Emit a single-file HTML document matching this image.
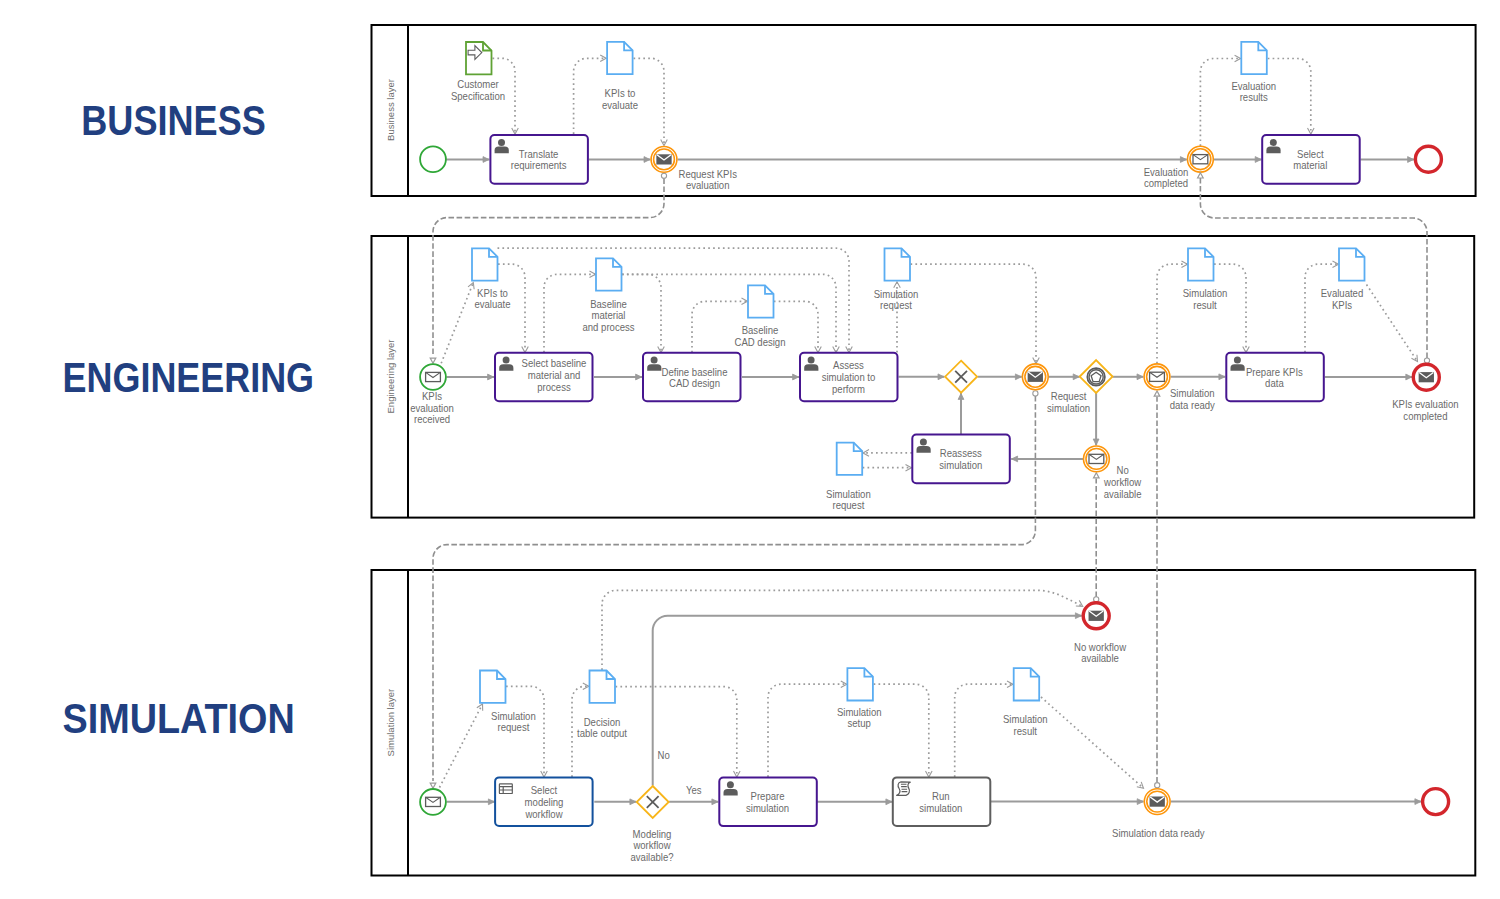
<!DOCTYPE html><html><head><meta charset="utf-8"><style>html,body{margin:0;padding:0;background:#fff;}svg{display:block;font-family:"Liberation Sans",sans-serif;}</style></head><body>
<svg width="1500" height="899" viewBox="0 0 1500 899">
<rect width="1500" height="899" fill="#fff"/>
<text x="81.3" y="135.1" font-size="41.8" font-weight="bold" fill="#213f80" textLength="184.5" lengthAdjust="spacingAndGlyphs">BUSINESS</text>
<text x="62.6" y="392.4" font-size="41.8" font-weight="bold" fill="#213f80" textLength="251.4" lengthAdjust="spacingAndGlyphs">ENGINEERING</text>
<text x="62.5" y="732.6" font-size="41.8" font-weight="bold" fill="#213f80" textLength="232.3" lengthAdjust="spacingAndGlyphs">SIMULATION</text>
<rect x="371.5" y="25" width="1104.1" height="171" fill="none" stroke="#000" stroke-width="2"/>
<path d="M408 25V196" stroke="#000" stroke-width="2"/>
<text transform="translate(393.8 110) rotate(-90)" text-anchor="middle" font-size="9.5" fill="#6e6e6e">Business layer</text>
<rect x="371.5" y="236" width="1102.7" height="281.6" fill="none" stroke="#000" stroke-width="2"/>
<path d="M408 236V517.6" stroke="#000" stroke-width="2"/>
<text transform="translate(393.8 376.5) rotate(-90)" text-anchor="middle" font-size="9.5" fill="#6e6e6e">Engineering layer</text>
<rect x="371.5" y="570" width="1103.8" height="305.5" fill="none" stroke="#000" stroke-width="2"/>
<path d="M408 570V875.5" stroke="#000" stroke-width="2"/>
<text transform="translate(393.8 722.6) rotate(-90)" text-anchor="middle" font-size="9.5" fill="#6e6e6e">Simulation layer</text>
<path d="M446 159.5L489.4 159.5" fill="none" stroke="#9b9b9b" stroke-width="2"/>
<path d="M489 159.5L483 162.4L483 156.6Z" fill="#9b9b9b" stroke="#9b9b9b" stroke-width="0.8" stroke-linejoin="round"/>
<path d="M588.9 159.5L650.4 159.5" fill="none" stroke="#9b9b9b" stroke-width="2"/>
<path d="M650 159.5L644 162.4L644 156.6Z" fill="#9b9b9b" stroke="#9b9b9b" stroke-width="0.8" stroke-linejoin="round"/>
<path d="M677.6 159.5L1186.8 159.5" fill="none" stroke="#9b9b9b" stroke-width="2"/>
<path d="M1186.4 159.5L1180.4 162.4L1180.4 156.6Z" fill="#9b9b9b" stroke="#9b9b9b" stroke-width="0.8" stroke-linejoin="round"/>
<path d="M1213.6 159.5L1261.6 159.5" fill="none" stroke="#9b9b9b" stroke-width="2"/>
<path d="M1261.2 159.5L1255.2 162.4L1255.2 156.6Z" fill="#9b9b9b" stroke="#9b9b9b" stroke-width="0.8" stroke-linejoin="round"/>
<path d="M1360.5 159.5L1414 159.5" fill="none" stroke="#9b9b9b" stroke-width="2"/>
<path d="M1413.6 159.5L1407.6 162.4L1407.6 156.6Z" fill="#9b9b9b" stroke="#9b9b9b" stroke-width="0.8" stroke-linejoin="round"/>
<path d="M492.5 58.3L502 58.3A13 13 0 0 1 515 71.3L515 134" fill="none" stroke="#9b9b9b" stroke-width="1.7" stroke-dasharray="1.7 3.2"/>
<path d="M511.7 128L515 134L518.3 128" fill="none" stroke="#9b9b9b" stroke-width="1.1"/>
<path d="M573.6 134L573.6 71.3A13 13 0 0 1 586.6 58.3L606.2 58.3" fill="none" stroke="#9b9b9b" stroke-width="1.7" stroke-dasharray="1.7 3.2"/>
<path d="M600.2 61.6L606.2 58.3L600.2 55" fill="none" stroke="#9b9b9b" stroke-width="1.1"/>
<path d="M633.5 58.3L651 58.3A13 13 0 0 1 664 71.3L664 145.6" fill="none" stroke="#9b9b9b" stroke-width="1.7" stroke-dasharray="1.7 3.2"/>
<path d="M660.7 139.6L664 145.6L667.3 139.6" fill="none" stroke="#9b9b9b" stroke-width="1.1"/>
<path d="M1200.4 146L1200.4 71.5A13 13 0 0 1 1213.4 58.5L1240.6 58.5" fill="none" stroke="#9b9b9b" stroke-width="1.7" stroke-dasharray="1.7 3.2"/>
<path d="M1234.6 61.8L1240.6 58.5L1234.6 55.2" fill="none" stroke="#9b9b9b" stroke-width="1.1"/>
<path d="M1267.7 58.5L1297.8 58.5A13 13 0 0 1 1310.8 71.5L1310.8 134" fill="none" stroke="#9b9b9b" stroke-width="1.7" stroke-dasharray="1.7 3.2"/>
<path d="M1307.5 128L1310.8 134L1314.1 128" fill="none" stroke="#9b9b9b" stroke-width="1.1"/>
<circle cx="433" cy="159.3" r="12.9" fill="#fff" stroke="#2fa737" stroke-width="1.8"/>
<rect x="490.4" y="135.1" width="97.5" height="48.6" rx="4" fill="#fff" stroke="#46168f" stroke-width="2"/>
<circle cx="501.5" cy="142.4" r="3.5" fill="#5c5c5c"/>
<path d="M494.6 153.2V150.3Q494.6 146.6 498.6 146.6H504.8Q508.8 146.6 508.8 150.3V153.2Z" fill="#5c5c5c"/>
<text transform="translate(538.6 157.7) scale(0.87 1)" text-anchor="middle" font-size="11" fill="#6a6a6a">Translate</text>
<text transform="translate(538.6 169.2) scale(0.87 1)" text-anchor="middle" font-size="11" fill="#6a6a6a">requirements</text>
<circle cx="664" cy="159.4" r="12.9" fill="#fff" stroke="#fd950a" stroke-width="1.6"/>
<circle cx="664" cy="159.4" r="10.4" fill="none" stroke="#fd950a" stroke-width="1.6"/>
<rect x="656.35" y="154.3" width="15.3" height="10.2" fill="#5c5c5c"/>
<path d="M656.95 154.7L664 159.91L671.05 154.7" fill="none" stroke="#fff" stroke-width="1.3"/>
<circle cx="1200.4" cy="159.2" r="12.9" fill="#fff" stroke="#fd950a" stroke-width="1.6"/>
<circle cx="1200.4" cy="159.2" r="10.4" fill="none" stroke="#fd950a" stroke-width="1.6"/>
<rect x="1193" y="154.6" width="14.8" height="9.2" fill="#fff" stroke="#5c5c5c" stroke-width="1.3"/>
<path d="M1193 154.6L1200.4 159.66L1207.8 154.6" fill="none" stroke="#5c5c5c" stroke-width="1.1"/>
<rect x="1262.2" y="135.1" width="97.5" height="48.6" rx="4" fill="#fff" stroke="#46168f" stroke-width="2"/>
<circle cx="1273.3" cy="142.4" r="3.5" fill="#5c5c5c"/>
<path d="M1266.4 153.2V150.3Q1266.4 146.6 1270.4 146.6H1276.6Q1280.6 146.6 1280.6 150.3V153.2Z" fill="#5c5c5c"/>
<text transform="translate(1310.3 157.7) scale(0.87 1)" text-anchor="middle" font-size="11" fill="#6a6a6a">Select</text>
<text transform="translate(1310.3 169.2) scale(0.87 1)" text-anchor="middle" font-size="11" fill="#6a6a6a">material</text>
<circle cx="1428.4" cy="159.2" r="13" fill="#fff" stroke="#d3262c" stroke-width="3.4"/>
<path d="M466 42H483L491.5 50.5V74.3H466Z" fill="#fff" stroke="#5fa234" stroke-width="1.8" stroke-linejoin="miter"/>
<path d="M483 42V50.5H491.5" fill="none" stroke="#5fa234" stroke-width="1.8"/>
<path d="M468.1 50.3H474.9V45.7L481.8 52.6L474.9 59.5V54.9H468.1Z" fill="none" stroke="#5c5c5c" stroke-width="1.1" stroke-linejoin="miter"/>
<path d="M607.1 41.8H624.1L632.6 50.3V74.1H607.1Z" fill="#fff" stroke="#5aadf2" stroke-width="1.8" stroke-linejoin="miter"/>
<path d="M624.1 41.8V50.3H632.6" fill="none" stroke="#5aadf2" stroke-width="1.8"/>
<path d="M1241.3 41.9H1258.3L1266.8 50.4V74.2H1241.3Z" fill="#fff" stroke="#5aadf2" stroke-width="1.8" stroke-linejoin="miter"/>
<path d="M1258.3 41.9V50.4H1266.8" fill="none" stroke="#5aadf2" stroke-width="1.8"/>
<text transform="translate(478 88) scale(0.87 1)" text-anchor="middle" font-size="11" fill="#6a6a6a">Customer</text>
<text transform="translate(478 99.5) scale(0.87 1)" text-anchor="middle" font-size="11" fill="#6a6a6a">Specification</text>
<text transform="translate(620 97.3) scale(0.87 1)" text-anchor="middle" font-size="11" fill="#6a6a6a">KPIs to</text>
<text transform="translate(620 108.8) scale(0.87 1)" text-anchor="middle" font-size="11" fill="#6a6a6a">evaluate</text>
<text transform="translate(707.7 177.6) scale(0.87 1)" text-anchor="middle" font-size="11" fill="#6a6a6a">Request KPIs</text>
<text transform="translate(707.7 189.1) scale(0.87 1)" text-anchor="middle" font-size="11" fill="#6a6a6a">evaluation</text>
<text transform="translate(1253.7 89.5) scale(0.87 1)" text-anchor="middle" font-size="11" fill="#6a6a6a">Evaluation</text>
<text transform="translate(1253.7 101) scale(0.87 1)" text-anchor="middle" font-size="11" fill="#6a6a6a">results</text>
<text transform="translate(1166 175.6) scale(0.87 1)" text-anchor="middle" font-size="11" fill="#6a6a6a">Evaluation</text>
<text transform="translate(1166 187.2) scale(0.87 1)" text-anchor="middle" font-size="11" fill="#6a6a6a">completed</text>
<path d="M664 178.4L664 203.6A14 14 0 0 1 650 217.6L447 217.6A14 14 0 0 0 433 231.6L433 356" fill="none" stroke="#8f8f8f" stroke-width="1.6" stroke-dasharray="5.6 2.5"/>
<path d="M433 363.3L430.2 358.1L435.8 358.1Z" fill="#fff" stroke="#9b9b9b" stroke-width="1.2"/>
<circle cx="664" cy="175.8" r="2.6" fill="#fff" stroke="#9b9b9b" stroke-width="1.1"/>
<path d="M1427 358L1427 232A14 14 0 0 0 1413 218L1214.4 218A14 14 0 0 1 1200.4 204L1200.4 178" fill="none" stroke="#8f8f8f" stroke-width="1.6" stroke-dasharray="5.6 2.5"/>
<path d="M1200.4 172.8L1203.2 178L1197.6 178Z" fill="#fff" stroke="#9b9b9b" stroke-width="1.2"/>
<path d="M446.5 377L494 377" fill="none" stroke="#9b9b9b" stroke-width="2"/>
<path d="M493.6 377L487.6 379.9L487.6 374.1Z" fill="#9b9b9b" stroke="#9b9b9b" stroke-width="0.8" stroke-linejoin="round"/>
<path d="M594 377L642 377" fill="none" stroke="#9b9b9b" stroke-width="2"/>
<path d="M641.6 377L635.6 379.9L635.6 374.1Z" fill="#9b9b9b" stroke="#9b9b9b" stroke-width="0.8" stroke-linejoin="round"/>
<path d="M742 377L799 377" fill="none" stroke="#9b9b9b" stroke-width="2"/>
<path d="M798.6 377L792.6 379.9L792.6 374.1Z" fill="#9b9b9b" stroke="#9b9b9b" stroke-width="0.8" stroke-linejoin="round"/>
<path d="M898.5 376.8L944.4 376.8" fill="none" stroke="#9b9b9b" stroke-width="2"/>
<path d="M944 376.8L938 379.7L938 373.9Z" fill="#9b9b9b" stroke="#9b9b9b" stroke-width="0.8" stroke-linejoin="round"/>
<path d="M977.6 376.8L1021.8 376.8" fill="none" stroke="#9b9b9b" stroke-width="2"/>
<path d="M1021.4 376.8L1015.4 379.7L1015.4 373.9Z" fill="#9b9b9b" stroke="#9b9b9b" stroke-width="0.8" stroke-linejoin="round"/>
<path d="M1048.8 376.8L1079.6 376.8" fill="none" stroke="#9b9b9b" stroke-width="2"/>
<path d="M1079.2 376.8L1073.2 379.7L1073.2 373.9Z" fill="#9b9b9b" stroke="#9b9b9b" stroke-width="0.8" stroke-linejoin="round"/>
<path d="M1112.4 376.8L1143.4 376.8" fill="none" stroke="#9b9b9b" stroke-width="2"/>
<path d="M1143 376.8L1137 379.7L1137 373.9Z" fill="#9b9b9b" stroke="#9b9b9b" stroke-width="0.8" stroke-linejoin="round"/>
<path d="M1170.6 376.8L1225.3 376.8" fill="none" stroke="#9b9b9b" stroke-width="2"/>
<path d="M1224.9 376.8L1218.9 379.7L1218.9 373.9Z" fill="#9b9b9b" stroke="#9b9b9b" stroke-width="0.8" stroke-linejoin="round"/>
<path d="M1324.8 377L1412.2 377" fill="none" stroke="#9b9b9b" stroke-width="2"/>
<path d="M1411.8 377L1405.8 379.9L1405.8 374.1Z" fill="#9b9b9b" stroke="#9b9b9b" stroke-width="0.8" stroke-linejoin="round"/>
<path d="M1096.1 393L1096.1 445.4" fill="none" stroke="#9b9b9b" stroke-width="2"/>
<path d="M1096.1 445L1093.2 439L1099 439Z" fill="#9b9b9b" stroke="#9b9b9b" stroke-width="0.8" stroke-linejoin="round"/>
<path d="M1083.3 458.9L1011.2 458.9" fill="none" stroke="#9b9b9b" stroke-width="2"/>
<path d="M1011.6 458.9L1017.6 456L1017.6 461.8Z" fill="#9b9b9b" stroke="#9b9b9b" stroke-width="0.8" stroke-linejoin="round"/>
<path d="M961 434L961 393" fill="none" stroke="#9b9b9b" stroke-width="2"/>
<path d="M961 393.4L963.9 399.4L958.1 399.4Z" fill="#9b9b9b" stroke="#9b9b9b" stroke-width="0.8" stroke-linejoin="round"/>
<path d="M441.2 363.3L473.3 282.5" fill="none" stroke="#9b9b9b" stroke-width="1.7" stroke-dasharray="1.7 3.2"/>
<path d="M474.15 289.29L473.3 282.5L468.02 286.86" fill="none" stroke="#9b9b9b" stroke-width="1.1"/>
<path d="M498 264.2L512 264.2A13 13 0 0 1 525 277.2L525 352.5" fill="none" stroke="#9b9b9b" stroke-width="1.7" stroke-dasharray="1.7 3.2"/>
<path d="M521.7 346.5L525 352.5L528.3 346.5" fill="none" stroke="#9b9b9b" stroke-width="1.1"/>
<path d="M497.5 248.2L836 248.2A13 13 0 0 1 849 261.2L849 352.5" fill="none" stroke="#9b9b9b" stroke-width="1.7" stroke-dasharray="1.7 3.2"/>
<path d="M845.7 346.5L849 352.5L852.3 346.5" fill="none" stroke="#9b9b9b" stroke-width="1.1"/>
<path d="M544 352.5L544 287.3A13 13 0 0 1 557 274.3L595.5 274.3" fill="none" stroke="#9b9b9b" stroke-width="1.7" stroke-dasharray="1.7 3.2"/>
<path d="M589.5 277.6L595.5 274.3L589.5 271" fill="none" stroke="#9b9b9b" stroke-width="1.1"/>
<path d="M622 274.3L823 274.3A13 13 0 0 1 836 287.3L836 352.5" fill="none" stroke="#9b9b9b" stroke-width="1.7" stroke-dasharray="1.7 3.2"/>
<path d="M832.7 346.5L836 352.5L839.3 346.5" fill="none" stroke="#9b9b9b" stroke-width="1.1"/>
<path d="M622 274.3L648 274.3A13 13 0 0 1 661 287.3L661 352.5" fill="none" stroke="#9b9b9b" stroke-width="1.7" stroke-dasharray="1.7 3.2"/>
<path d="M657.7 346.5L661 352.5L664.3 346.5" fill="none" stroke="#9b9b9b" stroke-width="1.1"/>
<path d="M692 352.5L692 314.3A13 13 0 0 1 705 301.3L747.5 301.3" fill="none" stroke="#9b9b9b" stroke-width="1.7" stroke-dasharray="1.7 3.2"/>
<path d="M741.5 304.6L747.5 301.3L741.5 298" fill="none" stroke="#9b9b9b" stroke-width="1.1"/>
<path d="M773.8 301.3L805 301.3A13 13 0 0 1 818 314.3L818 352.5" fill="none" stroke="#9b9b9b" stroke-width="1.7" stroke-dasharray="1.7 3.2"/>
<path d="M814.7 346.5L818 352.5L821.3 346.5" fill="none" stroke="#9b9b9b" stroke-width="1.1"/>
<path d="M897 352.5L897 281.8" fill="none" stroke="#9b9b9b" stroke-width="1.7" stroke-dasharray="1.7 3.2"/>
<path d="M900.3 287.8L897 281.8L893.7 287.8" fill="none" stroke="#9b9b9b" stroke-width="1.1"/>
<path d="M910.5 264.2L1023 264.2A13 13 0 0 1 1036 277.2L1036 363.5" fill="none" stroke="#9b9b9b" stroke-width="1.7" stroke-dasharray="1.7 3.2"/>
<path d="M1032.7 357.5L1036 363.5L1039.3 357.5" fill="none" stroke="#9b9b9b" stroke-width="1.1"/>
<path d="M1157 363.5L1157 277.2A13 13 0 0 1 1170 264.2L1187.5 264.2" fill="none" stroke="#9b9b9b" stroke-width="1.7" stroke-dasharray="1.7 3.2"/>
<path d="M1181.5 267.5L1187.5 264.2L1181.5 260.9" fill="none" stroke="#9b9b9b" stroke-width="1.1"/>
<path d="M1214 264.2L1233 264.2A13 13 0 0 1 1246 277.2L1246 352.5" fill="none" stroke="#9b9b9b" stroke-width="1.7" stroke-dasharray="1.7 3.2"/>
<path d="M1242.7 346.5L1246 352.5L1249.3 346.5" fill="none" stroke="#9b9b9b" stroke-width="1.1"/>
<path d="M1305 352.5L1305 277.2A13 13 0 0 1 1318 264.2L1338.5 264.2" fill="none" stroke="#9b9b9b" stroke-width="1.7" stroke-dasharray="1.7 3.2"/>
<path d="M1332.5 267.5L1338.5 264.2L1332.5 260.9" fill="none" stroke="#9b9b9b" stroke-width="1.1"/>
<path d="M1366.5 284.5L1417.5 361.5" fill="none" stroke="#9b9b9b" stroke-width="1.7" stroke-dasharray="1.7 3.2"/>
<path d="M1411.44 358.32L1417.5 361.5L1416.94 354.68" fill="none" stroke="#9b9b9b" stroke-width="1.1"/>
<path d="M912 452.9L863 452.9" fill="none" stroke="#9b9b9b" stroke-width="1.7" stroke-dasharray="1.7 3.2"/>
<path d="M869 449.6L863 452.9L869 456.2" fill="none" stroke="#9b9b9b" stroke-width="1.1"/>
<path d="M862.6 467.7L911.5 467.7" fill="none" stroke="#9b9b9b" stroke-width="1.7" stroke-dasharray="1.7 3.2"/>
<path d="M905.5 471L911.5 467.7L905.5 464.4" fill="none" stroke="#9b9b9b" stroke-width="1.1"/>
<path d="M1035.4 396L1035.4 530.6A14 14 0 0 1 1021.4 544.6L447 544.6A14 14 0 0 0 433 558.6L433 781" fill="none" stroke="#8f8f8f" stroke-width="1.6" stroke-dasharray="5.6 2.5"/>
<circle cx="1035.4" cy="393.4" r="2.6" fill="#fff" stroke="#9b9b9b" stroke-width="1.1"/>
<path d="M1096.2 597L1096.2 478.5" fill="none" stroke="#8f8f8f" stroke-width="1.6" stroke-dasharray="5.6 2.5"/>
<path d="M1096.3 472.7L1099.1 477.9L1093.5 477.9Z" fill="#fff" stroke="#9b9b9b" stroke-width="1.2"/>
<path d="M1157 782.5L1157 396.7" fill="none" stroke="#8f8f8f" stroke-width="1.6" stroke-dasharray="5.6 2.5"/>
<path d="M1157 390.9L1159.8 396.1L1154.2 396.1Z" fill="#fff" stroke="#9b9b9b" stroke-width="1.2"/>
<circle cx="1427" cy="360.6" r="2.6" fill="#fff" stroke="#9b9b9b" stroke-width="1.1"/>
<circle cx="433" cy="377" r="12.9" fill="#fff" stroke="#2fa737" stroke-width="1.8"/>
<rect x="425.6" y="372.4" width="14.8" height="9.2" fill="#fff" stroke="#5c5c5c" stroke-width="1.3"/>
<path d="M425.6 372.4L433 377.46L440.4 372.4" fill="none" stroke="#5c5c5c" stroke-width="1.1"/>
<rect x="495" y="352.7" width="97.5" height="48.6" rx="4" fill="#fff" stroke="#46168f" stroke-width="2"/>
<circle cx="506.1" cy="360" r="3.5" fill="#5c5c5c"/>
<path d="M499.2 370.8V367.9Q499.2 364.2 503.2 364.2H509.4Q513.4 364.2 513.4 367.9V370.8Z" fill="#5c5c5c"/>
<text transform="translate(554 367.3) scale(0.87 1)" text-anchor="middle" font-size="11" fill="#6a6a6a">Select baseline</text>
<text transform="translate(554 379.3) scale(0.87 1)" text-anchor="middle" font-size="11" fill="#6a6a6a">material and</text>
<text transform="translate(554 391.3) scale(0.87 1)" text-anchor="middle" font-size="11" fill="#6a6a6a">process</text>
<rect x="643" y="352.7" width="97.5" height="48.6" rx="4" fill="#fff" stroke="#46168f" stroke-width="2"/>
<circle cx="654.1" cy="360" r="3.5" fill="#5c5c5c"/>
<path d="M647.2 370.8V367.9Q647.2 364.2 651.2 364.2H657.4Q661.4 364.2 661.4 367.9V370.8Z" fill="#5c5c5c"/>
<text transform="translate(694.5 375.5) scale(0.87 1)" text-anchor="middle" font-size="11" fill="#6a6a6a">Define baseline</text>
<text transform="translate(694.5 387) scale(0.87 1)" text-anchor="middle" font-size="11" fill="#6a6a6a">CAD design</text>
<rect x="800" y="352.7" width="97.5" height="48.6" rx="4" fill="#fff" stroke="#46168f" stroke-width="2"/>
<circle cx="811.1" cy="360" r="3.5" fill="#5c5c5c"/>
<path d="M804.2 370.8V367.9Q804.2 364.2 808.2 364.2H814.4Q818.4 364.2 818.4 367.9V370.8Z" fill="#5c5c5c"/>
<text transform="translate(848.5 368.5) scale(0.87 1)" text-anchor="middle" font-size="11" fill="#6a6a6a">Assess</text>
<text transform="translate(848.5 380.5) scale(0.87 1)" text-anchor="middle" font-size="11" fill="#6a6a6a">simulation to</text>
<text transform="translate(848.5 392.5) scale(0.87 1)" text-anchor="middle" font-size="11" fill="#6a6a6a">perform</text>
<rect x="912.3" y="434.6" width="97.5" height="48.6" rx="4" fill="#fff" stroke="#46168f" stroke-width="2"/>
<circle cx="923.4" cy="441.9" r="3.5" fill="#5c5c5c"/>
<path d="M916.5 452.7V449.8Q916.5 446.1 920.5 446.1H926.7Q930.7 446.1 930.7 449.8V452.7Z" fill="#5c5c5c"/>
<text transform="translate(960.8 457.4) scale(0.87 1)" text-anchor="middle" font-size="11" fill="#6a6a6a">Reassess</text>
<text transform="translate(960.8 469) scale(0.87 1)" text-anchor="middle" font-size="11" fill="#6a6a6a">simulation</text>
<rect x="1226.3" y="352.7" width="97.5" height="48.6" rx="4" fill="#fff" stroke="#46168f" stroke-width="2"/>
<circle cx="1237.4" cy="360" r="3.5" fill="#5c5c5c"/>
<path d="M1230.5 370.8V367.9Q1230.5 364.2 1234.5 364.2H1240.7Q1244.7 364.2 1244.7 367.9V370.8Z" fill="#5c5c5c"/>
<text transform="translate(1274.4 375.5) scale(0.87 1)" text-anchor="middle" font-size="11" fill="#6a6a6a">Prepare KPIs</text>
<text transform="translate(1274.4 387) scale(0.87 1)" text-anchor="middle" font-size="11" fill="#6a6a6a">data</text>
<path d="M961.1 360.7L977.1 376.7L961.1 392.7L945.1 376.7Z" fill="#fff" stroke="#f8b519" stroke-width="1.8"/>
<path d="M955.2 370.8L967 382.6M967 370.8L955.2 382.6" stroke="#5c5c5c" stroke-width="1.8"/>
<circle cx="1035.3" cy="376.8" r="12.9" fill="#fff" stroke="#fd950a" stroke-width="1.6"/>
<circle cx="1035.3" cy="376.8" r="10.4" fill="none" stroke="#fd950a" stroke-width="1.6"/>
<rect x="1027.65" y="371.7" width="15.3" height="10.2" fill="#5c5c5c"/>
<path d="M1028.25 372.1L1035.3 377.31L1042.35 372.1" fill="none" stroke="#fff" stroke-width="1.3"/>
<path d="M1096.1 360.2L1112.5 376.6L1096.1 393L1079.7 376.6Z" fill="#fff" stroke="#f8b519" stroke-width="1.9"/>
<circle cx="1096.1" cy="376.9" r="8.8" fill="none" stroke="#5c5c5c" stroke-width="1.7"/>
<circle cx="1096.1" cy="376.9" r="7.1" fill="none" stroke="#5c5c5c" stroke-width="1.4"/>
<path d="M1096.1 372.2L1101.05 375.79L1099.16 381.61L1093.04 381.61L1091.15 375.79Z" fill="#fff" stroke="#5c5c5c" stroke-width="1.3"/>
<circle cx="1157" cy="376.8" r="12.9" fill="#fff" stroke="#fd950a" stroke-width="1.6"/>
<circle cx="1157" cy="376.8" r="10.4" fill="none" stroke="#fd950a" stroke-width="1.6"/>
<rect x="1149.6" y="372.2" width="14.8" height="9.2" fill="#fff" stroke="#5c5c5c" stroke-width="1.3"/>
<path d="M1149.6 372.2L1157 377.26L1164.4 372.2" fill="none" stroke="#5c5c5c" stroke-width="1.1"/>
<circle cx="1096.4" cy="458.9" r="12.9" fill="#fff" stroke="#fd950a" stroke-width="1.6"/>
<circle cx="1096.4" cy="458.9" r="10.4" fill="none" stroke="#fd950a" stroke-width="1.6"/>
<rect x="1089" y="454.3" width="14.8" height="9.2" fill="#fff" stroke="#5c5c5c" stroke-width="1.3"/>
<path d="M1089 454.3L1096.4 459.36L1103.8 454.3" fill="none" stroke="#5c5c5c" stroke-width="1.1"/>
<circle cx="1426.3" cy="377.2" r="13" fill="#fff" stroke="#d3262c" stroke-width="3.4"/>
<rect x="1418.65" y="372.1" width="15.3" height="10.2" fill="#5c5c5c"/>
<path d="M1419.25 372.5L1426.3 377.71L1433.35 372.5" fill="none" stroke="#fff" stroke-width="1.3"/>
<path d="M472 248.3H489L497.5 256.8V280.6H472Z" fill="#fff" stroke="#5aadf2" stroke-width="1.8" stroke-linejoin="miter"/>
<path d="M489 248.3V256.8H497.5" fill="none" stroke="#5aadf2" stroke-width="1.8"/>
<path d="M596 258.3H613L621.5 266.8V290.6H596Z" fill="#fff" stroke="#5aadf2" stroke-width="1.8" stroke-linejoin="miter"/>
<path d="M613 258.3V266.8H621.5" fill="none" stroke="#5aadf2" stroke-width="1.8"/>
<path d="M748 285.3H765L773.5 293.8V317.6H748Z" fill="#fff" stroke="#5aadf2" stroke-width="1.8" stroke-linejoin="miter"/>
<path d="M765 285.3V293.8H773.5" fill="none" stroke="#5aadf2" stroke-width="1.8"/>
<path d="M884.5 248.3H901.5L910 256.8V280.6H884.5Z" fill="#fff" stroke="#5aadf2" stroke-width="1.8" stroke-linejoin="miter"/>
<path d="M901.5 248.3V256.8H910" fill="none" stroke="#5aadf2" stroke-width="1.8"/>
<path d="M1188 248.3H1205L1213.5 256.8V280.6H1188Z" fill="#fff" stroke="#5aadf2" stroke-width="1.8" stroke-linejoin="miter"/>
<path d="M1205 248.3V256.8H1213.5" fill="none" stroke="#5aadf2" stroke-width="1.8"/>
<path d="M1339 248.3H1356L1364.5 256.8V280.6H1339Z" fill="#fff" stroke="#5aadf2" stroke-width="1.8" stroke-linejoin="miter"/>
<path d="M1356 248.3V256.8H1364.5" fill="none" stroke="#5aadf2" stroke-width="1.8"/>
<path d="M836.7 442.6H853.7L862.2 451.1V474.9H836.7Z" fill="#fff" stroke="#5aadf2" stroke-width="1.8" stroke-linejoin="miter"/>
<path d="M853.7 442.6V451.1H862.2" fill="none" stroke="#5aadf2" stroke-width="1.8"/>
<text transform="translate(432 400) scale(0.87 1)" text-anchor="middle" font-size="11" fill="#6a6a6a">KPIs</text>
<text transform="translate(432 411.6) scale(0.87 1)" text-anchor="middle" font-size="11" fill="#6a6a6a">evaluation</text>
<text transform="translate(432 423.2) scale(0.87 1)" text-anchor="middle" font-size="11" fill="#6a6a6a">received</text>
<text transform="translate(492.5 296.8) scale(0.87 1)" text-anchor="middle" font-size="11" fill="#6a6a6a">KPIs to</text>
<text transform="translate(492.5 308.4) scale(0.87 1)" text-anchor="middle" font-size="11" fill="#6a6a6a">evaluate</text>
<text transform="translate(608.5 307.8) scale(0.87 1)" text-anchor="middle" font-size="11" fill="#6a6a6a">Baseline</text>
<text transform="translate(608.5 319.4) scale(0.87 1)" text-anchor="middle" font-size="11" fill="#6a6a6a">material</text>
<text transform="translate(608.5 331) scale(0.87 1)" text-anchor="middle" font-size="11" fill="#6a6a6a">and process</text>
<text transform="translate(760 334.4) scale(0.87 1)" text-anchor="middle" font-size="11" fill="#6a6a6a">Baseline</text>
<text transform="translate(760 346) scale(0.87 1)" text-anchor="middle" font-size="11" fill="#6a6a6a">CAD design</text>
<text transform="translate(896 297.6) scale(0.87 1)" text-anchor="middle" font-size="11" fill="#6a6a6a">Simulation</text>
<text transform="translate(896 309.2) scale(0.87 1)" text-anchor="middle" font-size="11" fill="#6a6a6a">request</text>
<text transform="translate(1205 297.4) scale(0.87 1)" text-anchor="middle" font-size="11" fill="#6a6a6a">Simulation</text>
<text transform="translate(1205 309) scale(0.87 1)" text-anchor="middle" font-size="11" fill="#6a6a6a">result</text>
<text transform="translate(1342 297.4) scale(0.87 1)" text-anchor="middle" font-size="11" fill="#6a6a6a">Evaluated</text>
<text transform="translate(1342 309) scale(0.87 1)" text-anchor="middle" font-size="11" fill="#6a6a6a">KPIs</text>
<text transform="translate(1068.6 400) scale(0.87 1)" text-anchor="middle" font-size="11" fill="#6a6a6a">Request</text>
<text transform="translate(1068.6 411.6) scale(0.87 1)" text-anchor="middle" font-size="11" fill="#6a6a6a">simulation</text>
<text transform="translate(1192.3 397.2) scale(0.87 1)" text-anchor="middle" font-size="11" fill="#6a6a6a">Simulation</text>
<text transform="translate(1192.3 408.8) scale(0.87 1)" text-anchor="middle" font-size="11" fill="#6a6a6a">data ready</text>
<text transform="translate(1425.4 408) scale(0.87 1)" text-anchor="middle" font-size="11" fill="#6a6a6a">KPIs evaluation</text>
<text transform="translate(1425.4 419.6) scale(0.87 1)" text-anchor="middle" font-size="11" fill="#6a6a6a">completed</text>
<text transform="translate(848.4 497.8) scale(0.87 1)" text-anchor="middle" font-size="11" fill="#6a6a6a">Simulation</text>
<text transform="translate(848.4 509.4) scale(0.87 1)" text-anchor="middle" font-size="11" fill="#6a6a6a">request</text>
<text transform="translate(1122.6 474.3) scale(0.87 1)" text-anchor="middle" font-size="11" fill="#6a6a6a">No</text>
<text transform="translate(1122.6 485.9) scale(0.87 1)" text-anchor="middle" font-size="11" fill="#6a6a6a">workflow</text>
<text transform="translate(1122.6 497.5) scale(0.87 1)" text-anchor="middle" font-size="11" fill="#6a6a6a">available</text>
<path d="M446.5 801.8L494.8 801.8" fill="none" stroke="#9b9b9b" stroke-width="2"/>
<path d="M494.4 801.8L488.4 804.7L488.4 798.9Z" fill="#9b9b9b" stroke="#9b9b9b" stroke-width="0.8" stroke-linejoin="round"/>
<path d="M594.3 801.8L636.3 801.8" fill="none" stroke="#9b9b9b" stroke-width="2"/>
<path d="M635.9 801.8L629.9 804.7L629.9 798.9Z" fill="#9b9b9b" stroke="#9b9b9b" stroke-width="0.8" stroke-linejoin="round"/>
<path d="M669.1 801.8L718.3 801.8" fill="none" stroke="#9b9b9b" stroke-width="2"/>
<path d="M717.9 801.8L711.9 804.7L711.9 798.9Z" fill="#9b9b9b" stroke="#9b9b9b" stroke-width="0.8" stroke-linejoin="round"/>
<path d="M816.8 801.8L892.3 801.8" fill="none" stroke="#9b9b9b" stroke-width="2"/>
<path d="M891.9 801.8L885.9 804.7L885.9 798.9Z" fill="#9b9b9b" stroke="#9b9b9b" stroke-width="0.8" stroke-linejoin="round"/>
<path d="M990.8 801.6L1143.6 801.6" fill="none" stroke="#9b9b9b" stroke-width="2"/>
<path d="M1143.2 801.6L1137.2 804.5L1137.2 798.7Z" fill="#9b9b9b" stroke="#9b9b9b" stroke-width="0.8" stroke-linejoin="round"/>
<path d="M1170.9 801.6L1421.3 801.6" fill="none" stroke="#9b9b9b" stroke-width="2"/>
<path d="M1420.9 801.6L1414.9 804.5L1414.9 798.7Z" fill="#9b9b9b" stroke="#9b9b9b" stroke-width="0.8" stroke-linejoin="round"/>
<path d="M652.7 785.4L652.7 630.7A15 15 0 0 1 667.7 615.7L1081.8 615.7" fill="none" stroke="#9b9b9b" stroke-width="2"/>
<path d="M1081.4 615.7L1075.4 618.6L1075.4 612.8Z" fill="#9b9b9b" stroke="#9b9b9b" stroke-width="0.8" stroke-linejoin="round"/>
<path d="M439.5 787.5L482.5 704" fill="none" stroke="#9b9b9b" stroke-width="1.7" stroke-dasharray="1.7 3.2"/>
<path d="M482.69 710.85L482.5 704L476.82 707.82" fill="none" stroke="#9b9b9b" stroke-width="1.1"/>
<path d="M506 686.3L531 686.3A13 13 0 0 1 544 699.3L544 777" fill="none" stroke="#9b9b9b" stroke-width="1.7" stroke-dasharray="1.7 3.2"/>
<path d="M540.7 771L544 777L547.3 771" fill="none" stroke="#9b9b9b" stroke-width="1.1"/>
<path d="M572 777L572 699.3A13 13 0 0 1 585 686.3L588.8 686.3" fill="none" stroke="#9b9b9b" stroke-width="1.7" stroke-dasharray="1.7 3.2"/>
<path d="M582.8 689.6L588.8 686.3L582.8 683" fill="none" stroke="#9b9b9b" stroke-width="1.1"/>
<path d="M602 670L602 604.3A14 14 0 0 1 616 590.3L1036 590.3Q1050 590.3 1062.58 596.45L1082.7 606.3" fill="none" stroke="#9b9b9b" stroke-width="1.7" stroke-dasharray="1.7 3.2"/>
<path d="M1075.86 606.04L1082.7 606.3L1079.25 600.38" fill="none" stroke="#9b9b9b" stroke-width="1.1"/>
<path d="M615.5 686.6L723.8 686.6A13 13 0 0 1 736.8 699.6L736.8 777" fill="none" stroke="#9b9b9b" stroke-width="1.7" stroke-dasharray="1.7 3.2"/>
<path d="M733.5 771L736.8 777L740.1 771" fill="none" stroke="#9b9b9b" stroke-width="1.1"/>
<path d="M768 777L768 697.2A13 13 0 0 1 781 684.2L846.8 684.2" fill="none" stroke="#9b9b9b" stroke-width="1.7" stroke-dasharray="1.7 3.2"/>
<path d="M840.8 687.5L846.8 684.2L840.8 680.9" fill="none" stroke="#9b9b9b" stroke-width="1.1"/>
<path d="M873.6 684.2L915.8 684.2A13 13 0 0 1 928.8 697.2L928.8 777" fill="none" stroke="#9b9b9b" stroke-width="1.7" stroke-dasharray="1.7 3.2"/>
<path d="M925.5 771L928.8 777L932.1 771" fill="none" stroke="#9b9b9b" stroke-width="1.1"/>
<path d="M954.7 777L954.7 697.2A13 13 0 0 1 967.7 684.2L1013 684.2" fill="none" stroke="#9b9b9b" stroke-width="1.7" stroke-dasharray="1.7 3.2"/>
<path d="M1007 687.5L1013 684.2L1007 680.9" fill="none" stroke="#9b9b9b" stroke-width="1.1"/>
<path d="M1041 697L1143.5 788.3" fill="none" stroke="#9b9b9b" stroke-width="1.7" stroke-dasharray="1.7 3.2"/>
<path d="M1136.82 786.77L1143.5 788.3L1141.21 781.85" fill="none" stroke="#9b9b9b" stroke-width="1.1"/>
<circle cx="1096.2" cy="599.3" r="2.6" fill="#fff" stroke="#9b9b9b" stroke-width="1.1"/>
<circle cx="1157.2" cy="785.2" r="2.6" fill="#fff" stroke="#9b9b9b" stroke-width="1.1"/>
<path d="M433 788.3L430.2 783.1L435.8 783.1Z" fill="#fff" stroke="#9b9b9b" stroke-width="1.2"/>
<circle cx="433" cy="801.9" r="12.9" fill="#fff" stroke="#2fa737" stroke-width="1.8"/>
<rect x="425.6" y="797.3" width="14.8" height="9.2" fill="#fff" stroke="#5c5c5c" stroke-width="1.3"/>
<path d="M425.6 797.3L433 802.36L440.4 797.3" fill="none" stroke="#5c5c5c" stroke-width="1.1"/>
<rect x="495.1" y="777.4" width="97.5" height="48.6" rx="4" fill="#fff" stroke="#13519d" stroke-width="2"/>
<g fill="none" stroke="#5c5c5c" stroke-width="1.2"><rect x="499.4" y="783.8" width="12.9" height="9.7" rx="0.6"/><path d="M499.4 786.7H512.3M499.4 790H512.3M503.2 786.7V793.5"/></g>
<text transform="translate(544 794.2) scale(0.87 1)" text-anchor="middle" font-size="11" fill="#6a6a6a">Select</text>
<text transform="translate(544 805.9) scale(0.87 1)" text-anchor="middle" font-size="11" fill="#6a6a6a">modeling</text>
<text transform="translate(544 817.6) scale(0.87 1)" text-anchor="middle" font-size="11" fill="#6a6a6a">workflow</text>
<path d="M652.7 786L668.7 802L652.7 818L636.7 802Z" fill="#fff" stroke="#f8b519" stroke-width="1.8"/>
<path d="M646.8 796.1L658.6 807.9M658.6 796.1L646.8 807.9" stroke="#5c5c5c" stroke-width="1.8"/>
<rect x="719.3" y="777.5" width="97.5" height="48.6" rx="4" fill="#fff" stroke="#46168f" stroke-width="2"/>
<circle cx="730.4" cy="784.8" r="3.5" fill="#5c5c5c"/>
<path d="M723.5 795.6V792.7Q723.5 789 727.5 789H733.7Q737.7 789 737.7 792.7V795.6Z" fill="#5c5c5c"/>
<text transform="translate(767.5 800.3) scale(0.87 1)" text-anchor="middle" font-size="11" fill="#6a6a6a">Prepare</text>
<text transform="translate(767.5 811.9) scale(0.87 1)" text-anchor="middle" font-size="11" fill="#6a6a6a">simulation</text>
<rect x="892.8" y="777.4" width="97.5" height="48.6" rx="4" fill="#fff" stroke="#5e5e5e" stroke-width="2"/>
<path d="M910.3 782.1 L901 781.9 C897.8 782.3 897.3 785.7 899.1 788.5 C900.9 791.3 899.7 793.9 896.7 795.4 L905.9 795.4 C909.1 794.1 910.4 791.2 908.8 788.4 C907.3 785.7 907.7 783 910.3 782.1 Z" fill="#fff" stroke="#5c5c5c" stroke-width="1.2" stroke-linejoin="round"/>
<path d="M900.9 784.3H906.5M901.1 786.6H906.8M901.5 789.3H907.1M901.6 791.6H907.3" stroke="#5c5c5c" stroke-width="1.1"/>
<text transform="translate(940.8 800.3) scale(0.87 1)" text-anchor="middle" font-size="11" fill="#6a6a6a">Run</text>
<text transform="translate(940.8 811.9) scale(0.87 1)" text-anchor="middle" font-size="11" fill="#6a6a6a">simulation</text>
<circle cx="1157.2" cy="801.6" r="12.9" fill="#fff" stroke="#fd950a" stroke-width="1.6"/>
<circle cx="1157.2" cy="801.6" r="10.4" fill="none" stroke="#fd950a" stroke-width="1.6"/>
<rect x="1149.55" y="796.5" width="15.3" height="10.2" fill="#5c5c5c"/>
<path d="M1150.15 796.9L1157.2 802.11L1164.25 796.9" fill="none" stroke="#fff" stroke-width="1.3"/>
<circle cx="1435.6" cy="801.6" r="13" fill="#fff" stroke="#d3262c" stroke-width="3.4"/>
<circle cx="1096.2" cy="615.8" r="13" fill="#fff" stroke="#d3262c" stroke-width="3.4"/>
<rect x="1088.55" y="610.7" width="15.3" height="10.2" fill="#5c5c5c"/>
<path d="M1089.15 611.1L1096.2 616.31L1103.25 611.1" fill="none" stroke="#fff" stroke-width="1.3"/>
<path d="M480 670.5H497L505.5 679V702.8H480Z" fill="#fff" stroke="#5aadf2" stroke-width="1.8" stroke-linejoin="miter"/>
<path d="M497 670.5V679H505.5" fill="none" stroke="#5aadf2" stroke-width="1.8"/>
<path d="M589.5 670.5H606.5L615 679V702.8H589.5Z" fill="#fff" stroke="#5aadf2" stroke-width="1.8" stroke-linejoin="miter"/>
<path d="M606.5 670.5V679H615" fill="none" stroke="#5aadf2" stroke-width="1.8"/>
<path d="M847.4 668.2H864.4L872.9 676.7V700.5H847.4Z" fill="#fff" stroke="#5aadf2" stroke-width="1.8" stroke-linejoin="miter"/>
<path d="M864.4 668.2V676.7H872.9" fill="none" stroke="#5aadf2" stroke-width="1.8"/>
<path d="M1013.7 668.2H1030.7L1039.2 676.7V700.5H1013.7Z" fill="#fff" stroke="#5aadf2" stroke-width="1.8" stroke-linejoin="miter"/>
<path d="M1030.7 668.2V676.7H1039.2" fill="none" stroke="#5aadf2" stroke-width="1.8"/>
<text transform="translate(513.4 719.5) scale(0.87 1)" text-anchor="middle" font-size="11" fill="#6a6a6a">Simulation</text>
<text transform="translate(513.4 731.1) scale(0.87 1)" text-anchor="middle" font-size="11" fill="#6a6a6a">request</text>
<text transform="translate(602 725.7) scale(0.87 1)" text-anchor="middle" font-size="11" fill="#6a6a6a">Decision</text>
<text transform="translate(602 737.3) scale(0.87 1)" text-anchor="middle" font-size="11" fill="#6a6a6a">table output</text>
<text transform="translate(652 837.7) scale(0.87 1)" text-anchor="middle" font-size="11" fill="#6a6a6a">Modeling</text>
<text transform="translate(652 849.3) scale(0.87 1)" text-anchor="middle" font-size="11" fill="#6a6a6a">workflow</text>
<text transform="translate(652 860.9) scale(0.87 1)" text-anchor="middle" font-size="11" fill="#6a6a6a">available?</text>
<text transform="translate(663.7 759) scale(0.87 1)" text-anchor="middle" font-size="11" fill="#6a6a6a">No</text>
<text transform="translate(693.7 794.4) scale(0.87 1)" text-anchor="middle" font-size="11" fill="#6a6a6a">Yes</text>
<text transform="translate(859.2 715.7) scale(0.87 1)" text-anchor="middle" font-size="11" fill="#6a6a6a">Simulation</text>
<text transform="translate(859.2 727.3) scale(0.87 1)" text-anchor="middle" font-size="11" fill="#6a6a6a">setup</text>
<text transform="translate(1025.3 723.1) scale(0.87 1)" text-anchor="middle" font-size="11" fill="#6a6a6a">Simulation</text>
<text transform="translate(1025.3 734.7) scale(0.87 1)" text-anchor="middle" font-size="11" fill="#6a6a6a">result</text>
<text transform="translate(1158.3 837.3) scale(0.87 1)" text-anchor="middle" font-size="11" fill="#6a6a6a">Simulation data ready</text>
<text transform="translate(1100 650.7) scale(0.87 1)" text-anchor="middle" font-size="11" fill="#6a6a6a">No workflow</text>
<text transform="translate(1100 662.3) scale(0.87 1)" text-anchor="middle" font-size="11" fill="#6a6a6a">available</text>
</svg></body></html>
